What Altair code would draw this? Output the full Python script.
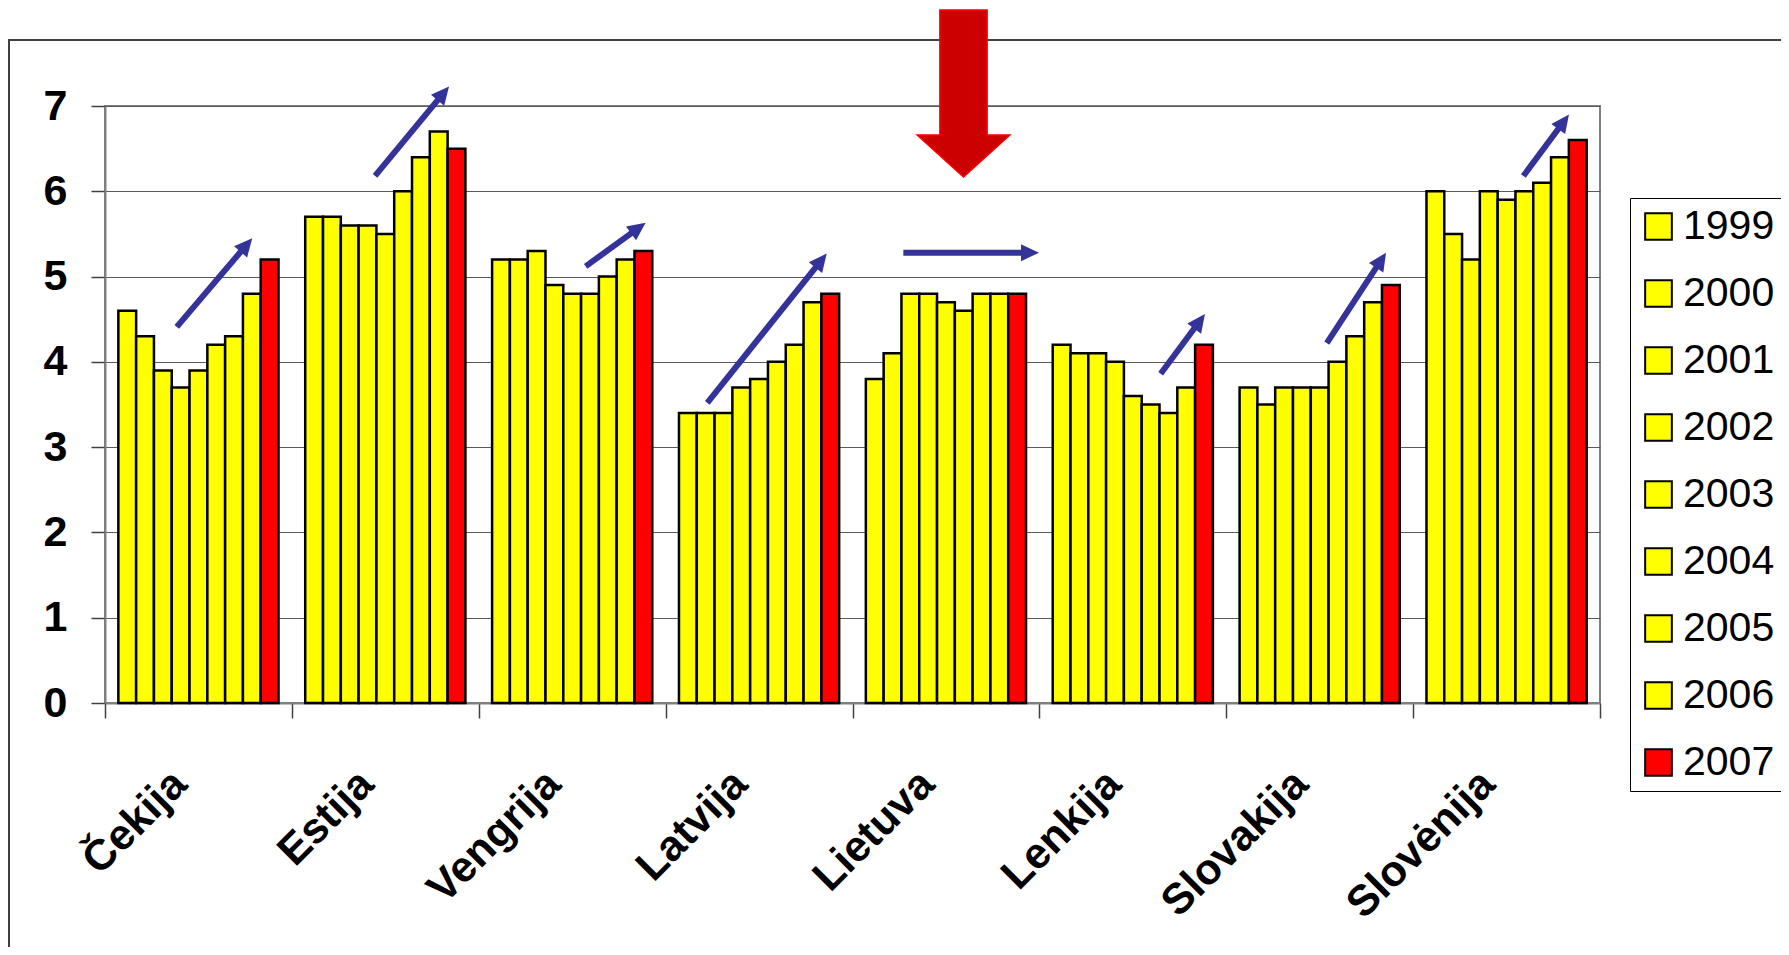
import math
import altair as alt
import pandas as pd

# ---- data ----
countries = ["Čekija", "Estija", "Vengrija", "Latvija", "Lietuva", "Lenkija", "Slovakija", "Slovėnija"]
years = ["1999", "2000", "2001", "2002", "2003", "2004", "2005", "2006", "2007"]

cekija = [4.6, 4.3, 3.9, 3.7, 3.9, 4.2, 4.3, 4.8, 5.2]
estija = [5.7, 5.7, 5.6, 5.6, 5.5, 6.0, 6.4, 6.7, 6.5]
vengrija = [5.2, 5.2, 5.3, 4.9, 4.8, 4.8, 5.0, 5.2, 5.3]
latvija = [3.4, 3.4, 3.4, 3.7, 3.8, 4.0, 4.2, 4.7, 4.8]
lietuva = [3.8, 4.1, 4.8, 4.8, 4.7, 4.6, 4.8, 4.8, 4.8]
lenkija = [4.2, 4.1, 4.1, 4.0, 3.6, 3.5, 3.4, 3.7, 4.2]
slovakija = [3.7, 3.5, 3.7, 3.7, 3.7, 4.0, 4.3, 4.7, 4.9]
slovenija = [6.0, 5.5, 5.2, 6.0, 5.9, 6.0, 6.1, 6.4, 6.6]
series = [cekija, estija, vengrija, latvija, lietuva, lenkija, slovakija, slovenija]

# trend-arrow annotations (x in category units 0..8, y in data units)
arrow_x0 = [0.384, 1.445, 2.572, 3.223, 4.272, 5.649, 6.538, 7.590]
arrow_y0 = [4.41, 6.18, 5.12, 3.52, 5.28, 3.86, 4.22, 6.18]
arrow_x1 = [0.788, 1.841, 2.893, 3.862, 4.998, 5.886, 6.855, 7.834]
arrow_y1 = [5.45, 7.23, 5.63, 5.27, 5.28, 4.56, 5.28, 6.90]
# big red pointer above Lietuva
pointer_x = [4.594]
pointer_y = [7.146]

# ---- layout / style ----
W, H = 1495, 597
YMAX = 7
NCAT = 8
FONT = "Liberation Sans"
BLUE = "#333399"
HEAD = 18

rows = []
for c, vals in zip(countries, series):
    for y, v in zip(years, vals):
        rows.append({"country": c, "year": y, "value": v})
bars_df = pd.DataFrame(rows)

colors = ["#FFFF00"] * 8 + ["#FF0000"]


def to_px(u, v):
    return u / NCAT * W, H - v / YMAX * H


def to_data(px, py):
    return px * NCAT / W, (H - py) * YMAX / H


seg_rows, head_rows = [], []
for i in range(len(arrow_x0)):
    x0, y0 = to_px(arrow_x0[i], arrow_y0[i])
    x1, y1 = to_px(arrow_x1[i], arrow_y1[i])
    dx, dy = x1 - x0, y1 - y0
    L = math.hypot(dx, dy)
    ux, uy = dx / L, dy / L
    cx, cy = x1 - ux * HEAD / 2, y1 - uy * HEAD / 2
    cu, cv = to_data(cx, cy)
    seg_rows.append({"u": arrow_x0[i], "value": arrow_y0[i], "u2": cu, "value2": cv})
    ang = math.degrees(math.atan2(ux, -uy)) % 360
    head_rows.append({"u": cu, "value": cv, "ang": ang})
seg_df = pd.DataFrame(seg_rows)
head_df = pd.DataFrame(head_rows)
ptr_df = pd.DataFrame({"u": pointer_x, "value": pointer_y})

yscale = alt.Scale(domain=[0, YMAX], nice=False)
uscale = alt.Scale(domain=[0, NCAT], nice=False, zero=False)

bars = alt.Chart(bars_df).mark_bar(stroke="black", strokeWidth=2.5).encode(
    x=alt.X(
        "country:N",
        sort=countries,
        scale=alt.Scale(paddingInner=0, paddingOuter=0),
        axis=alt.Axis(
            title=None,
            tickBand="extent",
            domainColor="#808080",
            domainWidth=2,
            tickColor="#404040",
            tickWidth=1.5,
            tickSize=15,
            labelFont=FONT,
            labelFontSize=43,
            labelFontWeight="bold",
            labelColor="black",
            labelAngle=315,
            labelAlign="right",
            labelBaseline="middle",
            labelPadding=59,
            labelOffset=-19,
            labelLimit=600,
            grid=False,
        ),
    ),
    xOffset=alt.XOffset(
        "year:N", sort=years, scale=alt.Scale(paddingInner=0, paddingOuter=0.75)
    ),
    y=alt.Y(
        "value:Q",
        scale=yscale,
        axis=alt.Axis(
            title=None,
            values=list(range(0, YMAX + 1)),
            format="d",
            domainColor="#808080",
            domainWidth=2,
            tickColor="#404040",
            tickWidth=1.5,
            tickSize=14,
            labelFont=FONT,
            labelFontSize=43,
            labelFontWeight="bold",
            labelColor="black",
            labelPadding=24,
            grid=True,
            gridColor="#5a5a5a",
            gridWidth=1,
        ),
    ),
    color=alt.Color(
        "year:N",
        sort=years,
        scale=alt.Scale(domain=years, range=colors),
        legend=alt.Legend(
            title=None,
            orient="none",
            legendX=1525,
            legendY=92,
            strokeColor="black",
            fillColor="white",
            padding=8,
            labelFont=FONT,
            labelFontSize=41,
            labelColor="black",
            labelOffset=4,
            labelLimit=400,
            symbolType="square",
            symbolSize=711,
            symbolStrokeColor="black",
            symbolStrokeWidth=2,
            symbolOpacity=1,
            rowPadding=25,
        ),
    ),
)

lines = alt.Chart(seg_df).mark_rule(color=BLUE, strokeWidth=6, strokeCap="butt").encode(
    x=alt.X("u:Q", scale=uscale, axis=None),
    x2="u2:Q",
    y=alt.Y("value:Q", scale=yscale),
    y2="value2:Q",
)

heads = alt.Chart(head_df).mark_point(
    shape="M0,-1 L0.95,1 L-0.95,1 Z", filled=True, color=BLUE, opacity=1, size=HEAD * HEAD
).encode(
    x=alt.X("u:Q", scale=uscale, axis=None),
    y=alt.Y("value:Q", scale=yscale),
    angle=alt.Angle("ang:Q", scale=None),
)

pointer = alt.Chart(ptr_df).mark_point(
    shape="M-0.283,-1 L0.283,-1 L0.283,0.497 L0.555,0.497 L0,1 L-0.555,0.497 L-0.283,0.497 Z",
    filled=True,
    fill="#CC0000",
    stroke="#FF0000",
    strokeWidth=1.5,
    opacity=1,
    size=167 * 167,
).encode(
    x=alt.X("u:Q", scale=uscale, axis=None),
    y=alt.Y("value:Q", scale=yscale),
)

frame = alt.Chart(pd.DataFrame({"k": [0]})).mark_rect(
    fillOpacity=0, stroke="#404040", strokeWidth=2
).encode(
    x=alt.value(-96), x2=alt.value(W + 400), y=alt.value(-66), y2=alt.value(H + 400)
)

chart = (
    alt.layer(frame, bars, lines, heads, pointer)
    .resolve_scale(x="independent")
    .properties(
        width=W,
        height=H,
        autosize=alt.AutoSizeParams(type="none"),
        padding={"left": 97, "top": 98, "right": 181, "bottom": 244},
        background="white",
    )
    .configure_view(stroke="#808080", strokeWidth=2)
)

chart.save("out.html", embed_options={"renderer": "svg", "actions": False})
